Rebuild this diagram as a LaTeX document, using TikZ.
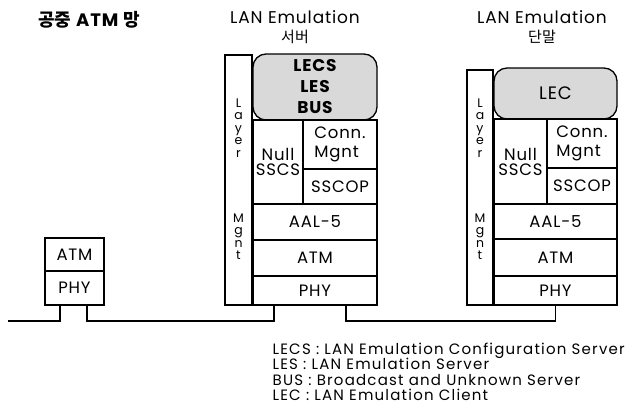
\documentclass[tikz,border=0pt]{standalone}
\usepackage{fontspec}
\setmainfont{Poppins}[LetterSpace=5]
\newfontfamily\krfont{Noto Sans CJK KR}
\usetikzlibrary{positioning, calc}
\tikzset{
  every picture/.style={line width=1.3pt, x=1pt, y=-1pt},
  cell/.style={draw, inner sep=0pt, outer sep=0pt, anchor=north west, align=center, font=\fontsize{16.5}{15}\selectfont},
  entity/.style={cell, rounded corners=13pt, fill=gray!30, font=\fontsize{17}{21}\selectfont\bfseries},
  mgnttext/.style={inner sep=0pt, anchor=north, align=center, font=\fontsize{12.5}{12.5}\selectfont},
  title/.style={font=\fontsize{17}{19}\selectfont, align=center},
  legend/.style={font=\fontsize{15}{15.5}\selectfont\addfontfeatures{LetterSpace=8}, align=left, anchor=north west, inner sep=0pt},
}

\begin{document}
\begin{tikzpicture}
  \useasboundingbox (0,0) rectangle (633,408);
  % titles
  \node[font=\fontsize{18}{18}\selectfont\bfseries] (ttl-atm) at (89,20) {{\krfont 공중} ATM {\krfont 망}};
  \node[title] (ttl-srv) at (295,27) {LAN Emulation\\{\krfont\fontsize{15}{19}\selectfont 서버}};
  \node[title] (ttl-term) at (542,27) {LAN Emulation\\{\krfont\fontsize{15}{19}\selectfont 단말}};
  % public ATM switch
  \node[cell, minimum width=59, minimum height=33] (swatm) at (45,238) {ATM};
  \node[cell, minimum width=59, minimum height=34] (swphy) at (45,271) {PHY};
  % LAN Emulation server
  \node[cell, minimum width=27, minimum height=250] (slm) at (225,55) {};
  \node[mgnttext, below=43pt of slm.north] (slmtext) {L\\a\\y\\e\\r\\[52.5pt]M\\g\\n\\t};
  \node[entity, minimum width=124, minimum height=66] (ssrv) at (253,54) {LECS\\LES\\BUS};
  \node[cell, minimum width=50, minimum height=84] (snull) at (253,120) {Null\\SSCS};
  \node[cell, align=left, font=\fontsize{16.5}{19}\selectfont, minimum width=74, minimum height=49] (sconn) at (303,120) {Conn.\\Mgnt};
  \node[cell, minimum width=74, minimum height=35] (ssscop) at (303,169) {SSCOP};
  \node[cell, minimum width=124, minimum height=36] (saal) at (253,204) {AAL-5};
  \node[cell, minimum width=124, minimum height=36] (satm) at (253,240) {ATM};
  \node[cell, minimum width=124, minimum height=29] (sphy) at (253,276) {PHY};
  % LAN Emulation terminal
  \node[cell, minimum width=26, minimum height=235] (tlm) at (467,70) {};
  \node[mgnttext, below=28pt of tlm.north] (tlmtext) {L\\a\\y\\e\\r\\[52.5pt]M\\g\\n\\t};
  \node[entity, font=\fontsize{18}{18}\selectfont, minimum width=123, minimum height=51] (tlec) at (494,68) {LEC};
  \node[cell, minimum width=53, minimum height=85] (tnull) at (494,119) {Null\\SSCS};
  \node[cell, align=left, font=\fontsize{16.5}{19}\selectfont, minimum width=70, minimum height=49] (tconn) at (547,119) {Conn.\\Mgnt};
  \node[cell, minimum width=70, minimum height=36] (tsscop) at (547,168) {SSCOP};
  \node[cell, minimum width=123, minimum height=35] (taal) at (494,204) {AAL-5};
  \node[cell, minimum width=123, minimum height=37] (tatm) at (494,239) {ATM};
  \node[cell, minimum width=123, minimum height=29] (tphy) at (494,276) {PHY};
  % links
  \coordinate (lanend) at (8,321);
  \draw (lanend) -| ([xshift=-14.5]swphy.south);
  \draw ([xshift=12.5]swphy.south) -- ++(0,16) -| ([xshift=-41]sphy.south);
  \draw ([xshift=31]sphy.south) -- ++(0,16) -| (tphy.south);
  % legend
  \node[legend] (key) at (272,342) {LECS : LAN Emulation Configuration Server\\LES : LAN Emulation Server\\BUS : Broadcast and Unknown Server\\LEC : LAN Emulation Client};
\end{tikzpicture}
\end{document}
